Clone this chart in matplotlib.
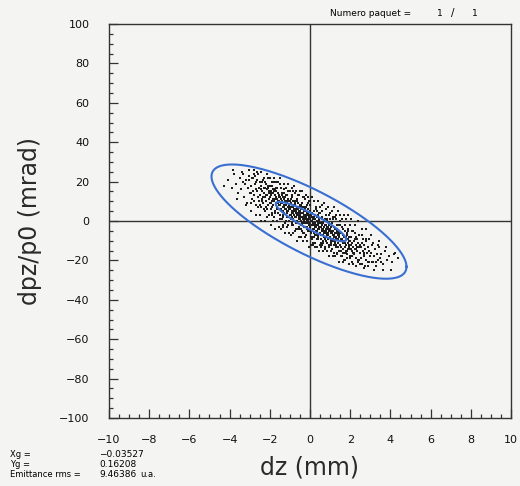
import numpy as np
import matplotlib
matplotlib.use("Agg")
import matplotlib.pyplot as plt
from matplotlib.ticker import MultipleLocator

# Particle cloud (dz in mm, dpz/p0 in mrad)
PARTICLES = [
    (-4.3, 18), (-4.1, 21), (-3.9, 17), (-3.8, 24), (-3.7, 19), (-3.6, 14), (-3.5, 22),
    (-3.45, 16), (-3.4, 25), (-3.35, 20), (-3.3, 12), (-3.25, 19), (-3.2, 21), (-3.15, 9),
    (-3.1, 17), (-3.05, 23), (-3.0, 14),
    (-2.95, 18), (-2.92, 14), (-2.9, 11), (-2.88, 22), (-2.85, 15), (-2.8, 26), (-2.78, 13),
    (-2.75, 19), (-2.72, 23), (-2.7, 8), (-2.68, 16), (-2.65, 21), (-2.62, 15), (-2.6, 12),
    (-2.58, 24), (-2.55, 17), (-2.52, 10), (-2.5, 20),
    (-2.48, 13), (-2.46, 16), (-2.45, 7), (-2.43, 18), (-2.41, 10), (-2.4, 11), (-2.38, 15),
    (-2.36, 12), (-2.35, 21), (-2.33, 9), (-2.3, 14), (-2.28, 17), (-2.26, 20), (-2.25, 5),
    (-2.23, 12), (-2.21, 13), (-2.2, 19), (-2.18, 10), (-2.16, 6), (-2.15, 16), (-2.13, 13),
    (-2.11, 17), (-2.1, 22), (-2.08, 8), (-2.06, 14), (-2.05, 15), (-2.03, 11), (-2.0, 18),
    (-1.98, 12), (-1.97, 9), (-1.96, 6), (-1.94, 15), (-1.93, 13), (-1.92, 9), (-1.9, 18),
    (-1.89, 10), (-1.88, 3), (-1.87, 7), (-1.86, 11), (-1.84, 14), (-1.83, 16), (-1.82, 8),
    (-1.8, 20), (-1.78, 10), (-1.77, 2), (-1.76, 13), (-1.74, 5), (-1.73, 11), (-1.72, 16),
    (-1.7, 9), (-1.69, 8), (-1.68, 12), (-1.67, 15), (-1.66, 7), (-1.64, 17), (-1.63, 6),
    (-1.62, 11), (-1.6, 4), (-1.59, 9), (-1.58, 14), (-1.57, 10), (-1.56, 8), (-1.54, 13),
    (-1.53, 12), (-1.52, 10), (-1.5, 19),
    (-1.49, 8), (-1.48, 12), (-1.47, 3), (-1.46, 6), (-1.45, 11), (-1.44, 9), (-1.43, 6),
    (-1.41, 14), (-1.4, 5), (-1.39, 1), (-1.38, 10), (-1.37, 9), (-1.36, 7), (-1.35, 5),
    (-1.34, -2), (-1.33, 12), (-1.32, 3), (-1.31, 7), (-1.3, 8), (-1.29, 16), (-1.28, 11),
    (-1.27, 4), (-1.25, 10), (-1.24, 6), (-1.23, -1), (-1.22, 12), (-1.21, 8), (-1.2, 9),
    (-1.19, 13), (-1.18, 17), (-1.17, 6), (-1.16, 4), (-1.15, 2), (-1.14, 5), (-1.13, 9),
    (-1.12, 13), (-1.11, 11), (-1.1, 7), (-1.09, 5), (-1.08, 2), (-1.07, 15), (-1.06, 6),
    (-1.05, 7), (-1.04, 8), (-1.03, 0), (-1.01, 10),
    (-0.99, 6), (-0.98, 3), (-0.97, 1), (-0.96, 11), (-0.95, 9), (-0.94, 7), (-0.93, 3),
    (-0.92, -1), (-0.92, 4), (-0.91, 12), (-0.9, 5), (-0.89, -2), (-0.88, 2), (-0.87, 7),
    (-0.86, 1), (-0.85, 4), (-0.84, 15), (-0.83, 10), (-0.82, 8), (-0.81, 0), (-0.8, 6),
    (-0.79, 5), (-0.78, 3), (-0.77, 14), (-0.76, 9), (-0.75, 2), (-0.74, 6), (-0.73, 8),
    (-0.72, 4), (-0.71, -4), (-0.7, 10), (-0.7, 5), (-0.69, 6), (-0.68, 2), (-0.67, 11),
    (-0.66, 0), (-0.65, 3), (-0.64, 7), (-0.63, -1), (-0.62, 4), (-0.61, 7), (-0.6, 3),
    (-0.59, 9), (-0.58, 6), (-0.57, 1), (-0.56, -3), (-0.55, 5), (-0.54, 2), (-0.53, 13),
    (-0.52, 5), (-0.51, 4), (-0.5, 8),
    (-0.49, 3), (-0.48, 1), (-0.48, -4), (-0.47, -2), (-0.46, 8), (-0.45, 6), (-0.44, 4),
    (-0.44, 2), (-0.43, 0), (-0.42, -2), (-0.41, 9), (-0.4, 2), (-0.39, -5), (-0.38, -1),
    (-0.37, 4), (-0.36, -1), (-0.35, 1), (-0.34, 12), (-0.33, 7), (-0.32, 5), (-0.31, -3),
    (-0.3, 3), (-0.3, -6), (-0.29, 2), (-0.28, 0), (-0.27, 11), (-0.26, 6), (-0.26, 1),
    (-0.25, -1), (-0.24, 3), (-0.23, 5), (-0.22, 1), (-0.21, -7), (-0.2, 7), (-0.2, 2),
    (-0.19, 3), (-0.18, -1), (-0.17, 8), (-0.16, -3), (-0.15, 0), (-0.14, 4), (-0.13, -4),
    (-0.12, 1), (-0.12, 9), (-0.11, 4), (-0.1, 0), (-0.09, 6), (-0.08, 3), (-0.08, -1),
    (-0.07, -2), (-0.06, -5), (-0.05, 2), (-0.04, -1), (-0.03, 10), (-0.02, 5), (-0.01, 1),
    (0.01, 3), (0.02, -3), (0.03, 0), (0.04, 3), (0.05, -8), (0.06, -6), (0.07, -5),
    (0.08, 0), (0.08, -2), (0.09, 2), (0.1, -9), (0.11, -2), (0.12, 4), (0.13, 1),
    (0.14, -4), (0.15, 1), (0.16, -1), (0.17, -12), (0.18, -8), (0.19, -6), (0.2, 2),
    (0.21, -4), (0.22, -2), (0.22, 5), (0.23, -1), (0.24, -11), (0.25, -7), (0.26, 1),
    (0.26, -2), (0.27, -3), (0.28, -5), (0.29, -2), (0.3, 6), (0.3, -2), (0.31, -7),
    (0.32, -3), (0.33, 0), (0.34, -9), (0.35, 2), (0.36, 0), (0.37, -5), (0.38, 3),
    (0.38, -9), (0.39, -2), (0.4, -4), (0.41, -1), (0.42, -7), (0.43, -4), (0.44, 1),
    (0.44, -1), (0.45, 4), (0.46, -3), (0.47, 0), (0.48, -12), (0.49, -6), (0.5, -1),
    (0.51, -6), (0.52, -3), (0.53, -1), (0.54, -11), (0.55, -9), (0.56, -7), (0.57, -3),
    (0.58, 1), (0.59, -12), (0.6, -5), (0.6, -4), (0.61, 2), (0.62, -2), (0.63, -7),
    (0.64, -1), (0.65, -4), (0.66, -15), (0.67, -10), (0.68, -8), (0.69, 0), (0.7, -6),
    (0.71, -5), (0.72, -3), (0.73, -14), (0.74, -9), (0.75, -2), (0.76, -6), (0.77, -8),
    (0.78, -4), (0.79, 3), (0.8, -10), (0.8, -5), (0.81, -6), (0.82, -2), (0.83, -11),
    (0.84, 0), (0.85, -3), (0.86, -7), (0.87, 1), (0.88, -4), (0.89, -7), (0.9, -3),
    (0.91, -9), (0.92, -6), (0.93, -1), (0.94, 3), (0.95, -5), (0.96, -2), (0.97, -13),
    (0.98, -5), (0.99, -4), (1.0, -8),
    (1.01, -8), (1.02, -12), (1.03, -3), (1.04, -6), (1.05, -11), (1.06, -9), (1.07, -6),
    (1.09, -14), (1.1, -5), (1.11, -1), (1.12, -10), (1.13, -9), (1.14, -7), (1.15, -5),
    (1.16, 2), (1.17, -12), (1.18, -3), (1.19, -7), (1.2, -8), (1.21, -16), (1.22, -11),
    (1.23, -4), (1.25, -10), (1.26, -6), (1.27, 1), (1.28, -12), (1.29, -8), (1.3, -9),
    (1.31, -13), (1.32, -17), (1.33, -6), (1.34, -4), (1.35, -2), (1.36, -5), (1.37, -9),
    (1.38, -13), (1.39, -11), (1.4, -7), (1.41, -5), (1.42, -2), (1.43, -15), (1.44, -6),
    (1.45, -7), (1.46, -8), (1.47, 0), (1.49, -10),
    (1.51, -12), (1.52, -9), (1.53, -6), (1.55, -15), (1.56, -13), (1.57, -9), (1.59, -18),
    (1.6, -10), (1.61, -3), (1.62, -7), (1.63, -11), (1.65, -14), (1.66, -16), (1.67, -8),
    (1.69, -20), (1.71, -10), (1.72, -2), (1.73, -13), (1.75, -5), (1.76, -11), (1.77, -16),
    (1.79, -9), (1.8, -8), (1.81, -12), (1.82, -15), (1.83, -7), (1.85, -17), (1.86, -6),
    (1.87, -11), (1.89, -4), (1.9, -9), (1.91, -14), (1.92, -10), (1.93, -8), (1.95, -13),
    (1.96, -12), (1.97, -10), (1.99, -19),
    (2.0, -18), (2.02, -14), (2.05, -8), (2.06, -12), (2.08, -15), (2.1, -11), (2.11, -5),
    (2.13, -22), (2.15, -13), (2.16, -16), (2.18, -10), (2.2, -17), (2.23, -6), (2.25, -14),
    (2.26, -9), (2.28, -12), (2.3, -19), (2.31, -14), (2.33, -9), (2.35, -15), (2.36, -13),
    (2.38, -21), (2.4, -11), (2.43, -13), (2.45, -7), (2.46, -20), (2.48, -16), (2.5, -12),
    (2.52, -13), (2.55, -19), (2.58, -11), (2.6, -22), (2.62, -15), (2.65, -9), (2.68, -17),
    (2.7, -12), (2.7, -16), (2.72, -23), (2.75, -14), (2.78, -20), (2.8, -10), (2.85, -16),
    (2.88, -13), (2.92, -21), (2.95, -15), (2.98, -18),
    (3.02, -16), (3.08, -12), (3.12, -21), (3.18, -18), (3.22, -14), (3.28, -23), (3.32, -17),
    (3.38, -20), (3.42, -13), (3.48, -19),
    (3.55, -17), (3.65, -22), (3.75, -15), (3.85, -20), (3.95, -18), (4.1, -21), (4.25, -16),
    (4.4, -19),
]

# Mid-band particles around the core
PARTICLES_MID = [
    (-3.02, 21), (-2.94, 9), (-2.86, 22), (-2.77, 10), (-2.69, 20), (-2.61, 7), (-2.53, 17),
    (-2.47, 8), (-2.39, 20), (-2.31, 6), (-2.24, 17), (-2.17, 7), (-2.09, 18), (-2.02, 3),
    (-1.95, 14), (-1.88, 4), (-1.81, 15), (-1.74, 4), (-1.67, 17), (-1.6, 4), (-1.54, 13),
    (-1.47, 1), (-1.41, 13), (-1.34, 2), (-1.28, 14), (-1.21, 0), (-1.15, 10), (-1.08, -2),
    (-1.02, 10), (-0.96, 1), (-0.89, 13), (-0.83, -2), (-0.77, 10), (-0.71, -1), (-0.64, 10),
    (-0.58, -4), (-0.52, 7), (-0.46, -4), (-0.39, 7), (-0.33, -6), (-0.27, 7), (-0.21, -3),
    (-0.14, 8), (-0.08, -5), (-0.02, 8), (0.04, -6), (0.11, 4), (0.17, -8), (0.23, 3),
    (0.29, -7), (0.36, 5), (0.42, -8), (0.48, 4), (0.55, -7), (0.61, 5), (0.67, -11),
    (0.74, 1), (0.8, -10), (0.86, 0), (0.93, -12), (0.99, 1), (1.05, -10), (1.12, 1),
    (1.18, -10), (1.24, 2), (1.31, -13), (1.37, -2), (1.43, -15), (1.5, -2), (1.56, -13),
    (1.62, -4), (1.69, -16), (1.75, -2), (1.81, -15), (1.88, -5), (1.94, -14), (2.01, -2),
    (2.07, -18), (2.14, -5), (2.21, -16), (2.29, -8), (2.37, -20), (2.44, -7), (2.52, -19),
    (2.61, -7), (2.69, -18), (2.78, -9), (2.87, -21), (2.96, -9), (3.06, -21), (3.15, -11),
    (3.27, -21), (3.39, -12), (3.52, -21),
]

# Outer halo particles, furthest from the main axis
PARTICLES_HALO = [
    (-3.82, 26), (-3.61, 11), (-3.33, 24), (-3.18, 8), (-3.01, 26), (-2.93, 5), (-2.79, 24),
    (-2.71, 3), (-2.63, 25), (-2.49, 3), (-2.44, 25), (-2.42, 0), (-2.29, 22), (-2.22, 0),
    (-2.14, 24), (-2.12, 2), (-1.99, 22), (-1.96, -2), (-1.91, 20), (-1.84, 0), (-1.79, 22),
    (-1.76, -4), (-1.71, 20), (-1.64, 0), (-1.61, 20), (-1.56, -3), (-1.49, 22), (-1.46, -4),
    (-1.42, 17), (-1.36, -3), (-1.31, 19), (-1.26, -6), (-1.19, 17), (-1.16, -3), (-1.11, 19),
    (-1.04, -6), (-0.99, 15), (-0.96, -7), (-0.91, 17), (-0.84, -6), (-0.81, 18), (-0.76, -5),
    (-0.69, 15), (-0.66, -10), (-0.61, 13), (-0.54, -8), (-0.49, 15), (-0.46, -8), (-0.41, 15),
    (-0.34, -10), (-0.31, 12), (-0.24, -8), (-0.19, 13), (-0.16, -10), (-0.11, 12),
    (-0.04, -13), (0.01, 10), (0.06, -12), (0.09, 12), (0.16, -11), (0.21, 10), (0.24, -13),
    (0.31, 7), (0.34, -13), (0.41, 10), (0.46, -15), (0.51, 7), (0.54, -13), (0.59, 8),
    (0.66, -15), (0.71, 9), (0.74, -13), (0.81, 6), (0.84, -15), (0.89, 7), (0.96, -18),
    (1.01, 4), (1.04, -15), (1.09, 5), (1.16, -18), (1.21, 7), (1.24, -18), (1.29, 3),
    (1.36, -16), (1.39, 5), (1.46, -21), (1.51, 3), (1.54, -18), (1.59, 1), (1.66, -21),
    (1.71, 3), (1.74, -20), (1.79, 1), (1.86, -19), (1.89, 3), (1.96, -22), (2.02, 1),
    (2.09, -21), (2.22, -2), (2.29, -23), (2.41, 0), (2.51, -22), (2.59, -4), (2.71, -24),
    (2.79, -4), (2.91, -23), (3.01, -7), (3.19, -25), (3.41, -10), (3.62, -25), (3.79, -13),
    (4.02, -25), (4.18, -17),
]

ALL_PARTICLES = PARTICLES + PARTICLES_MID + PARTICLES_HALO
DZ = [p[0] for p in ALL_PARTICLES]
DPZ = [p[1] for p in ALL_PARTICLES]

# Emittance ellipses (inner = rms, outer = full): centre, half extents, correlation
ELL_CENTER_DZ = [0.05, -0.05]
ELL_CENTER_DPZ = [-0.3, -0.3]
ELL_HALF_DZ = [1.75, 4.85]
ELL_HALF_DPZ = [10.0, 29.0]
ELL_COS_PHI = [-0.9, -0.79]

STATS_LABELS = ["Xg =", "Yg =", "Emittance rms ="]
STATS_VALUES = ["\u22120.03527", "0.16208", "9.46386"]

BG = "#f4f4f2"
INK = "#333333"
BLUE = "#3a6fd2"

fig = plt.figure(figsize=(5.2, 4.86), dpi=100, facecolor=BG)
ax = fig.add_axes([0.2096, 0.1399, 0.7731, 0.8107], facecolor=BG)

ax.plot(DZ, DPZ, ls="none", marker="s", ms=1.6, mew=0, color="#1e1e1e", zorder=3)

t = np.linspace(0, 2 * np.pi, 400)
for cx, cy, hx, hy, cphi in zip(ELL_CENTER_DZ, ELL_CENTER_DPZ, ELL_HALF_DZ, ELL_HALF_DPZ, ELL_COS_PHI):
    phi = np.arccos(cphi)
    ax.plot(cx + hx * np.cos(t), cy + hy * np.cos(t + phi), color=BLUE, lw=1.5, zorder=4)

ax.axhline(0, color=INK, lw=1.0, zorder=2)
ax.axvline(0, color=INK, lw=1.0, zorder=2)

ax.set_xlim(-10, 10)
ax.set_ylim(-100, 100)
ax.xaxis.set_major_locator(MultipleLocator(2))
ax.xaxis.set_minor_locator(MultipleLocator(0.5))
ax.yaxis.set_major_locator(MultipleLocator(20))
ax.yaxis.set_minor_locator(MultipleLocator(5))
ax.tick_params(which="both", direction="in", color=INK, width=0.9,
               top=False, right=False)
ax.tick_params(which="major", length=6.5, labelsize=8, labelcolor="#111111", pad=12)
ax.tick_params(which="minor", length=3)
ax.tick_params(axis="y", which="major", pad=14)
for s in ax.spines.values():
    s.set_color(INK)
    s.set_linewidth(1.0)

ax.set_xlabel("dz (mm)", fontsize=17, color="#2a2a2a", va="center")
ax.set_ylabel("dpz/p0 (mrad)", fontsize=17, color="#2a2a2a", va="center")
ax.xaxis.set_label_coords(0.5, -0.125)
ax.yaxis.set_label_coords(-0.197, 0.5)

fig.text(330 / 520, 1 - 13 / 486, "Numero paquet =", fontsize=6.5, va="center", ha="left")
fig.text(440 / 520, 1 - 13 / 486, "1", fontsize=6.5, va="center", ha="center")
fig.text(453 / 520, 1 - 13 / 486, "/", fontsize=7.5, va="center", ha="center")
fig.text(475 / 520, 1 - 13 / 486, "1", fontsize=6.5, va="center", ha="center")

for i, (lab, val) in enumerate(zip(STATS_LABELS, STATS_VALUES)):
    y = 1 - (454 + 10 * i) / 486
    fig.text(10 / 520, y, lab, fontsize=6, va="center", ha="left")
    fig.text(99 / 520, y, val, fontsize=6.5, va="center", ha="left")
fig.text(140 / 520, 1 - 474 / 486, "u.a.", fontsize=6, va="center", ha="left")

fig.savefig("out.png", dpi=100, facecolor=BG)
